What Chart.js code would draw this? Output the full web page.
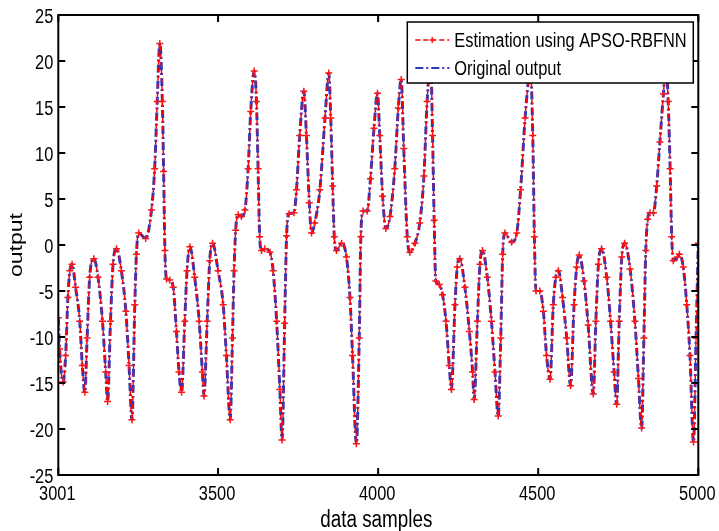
<!DOCTYPE html>
<html>
<head>
<meta charset="utf-8">
<script src="https://cdn.jsdelivr.net/npm/chart.js@4.4.1/dist/chart.umd.min.js"></script>
<style>
html, body { margin: 0; padding: 0; background: #fff; }
</style>
</head>
<body>
<canvas id="outputGraph" width="719" height="531"></canvas>
<script>
// values (sample index / output)
const samples = [
    3001, 3005, 3016, 3024, 3031, 3037, 3044, 3055, 3068, 3076, 3084, 3091, 3099, 3112, 3125, 3139, 3149, 3155, 3164, 3172,
    3183, 3198, 3212, 3222, 3231, 3240, 3245, 3252, 3274, 3292, 3302, 3310, 3318, 3326, 3330, 3334, 3339, 3349, 3360, 3370,
    3378, 3386, 3396, 3403, 3412, 3427, 3441, 3451, 3456, 3466, 3474, 3483, 3500, 3516, 3526, 3538, 3545, 3550, 3555, 3563,
    3573, 3584, 3594, 3602, 3613, 3620, 3625, 3630, 3636, 3646, 3662, 3672, 3683, 3693, 3700, 3708, 3714, 3722, 3737, 3745,
    3755, 3768, 3776, 3785, 3792, 3802, 3818, 3834, 3846, 3852, 3858, 3863, 3870, 3886, 3901, 3912, 3920, 3932, 3941, 3946,
    3953, 3966, 3976, 3987, 3998, 4005, 4014, 4024, 4037, 4052, 4063, 4072, 4080, 4091, 4099, 4115, 4130, 4143, 4153, 4164,
    4170, 4175, 4180, 4191, 4201, 4212, 4222, 4229, 4240, 4247, 4255, 4271, 4285, 4295, 4300, 4310, 4318, 4326, 4341, 4354,
    4365, 4375, 4383, 4389, 4396, 4417, 4433, 4445, 4459, 4469, 4475, 4483, 4488, 4493, 4505, 4516, 4526, 4537, 4547, 4555,
    4563, 4576, 4589, 4601, 4612, 4620, 4628, 4643, 4656, 4672, 4680, 4688, 4698, 4714, 4726, 4737, 4745, 4753, 4761, 4770,
    4787, 4802, 4813, 4823, 4830, 4836, 4842, 4849, 4860, 4870, 4880, 4891, 4899, 4906, 4912, 4917, 4922, 4935, 4941, 4953,
    4964, 4974, 4985, 4993, 5000
];
const originalOutput = [
    -7.9, -11.3, -14.9, -12.0, -5.7, -2.8, -2.1, -4.6, -8.3, -13.1, -16.0, -10.1, -3.5, -1.5, -3.5, -8.3, -13.8, -17.0, -8.3, -2.1,
    -0.4, -2.8, -7.2, -13.1, -19.0, -6.5, -1.0, 1.3, 0.7, 3.8, 8.3, 15.6, 21.9, 15.6, 8.0, -0.6, -3.7, -3.8, -4.6, -9.4,
    -13.8, -16.0, -8.3, -2.8, -0.2, -3.5, -8.3, -13.8, -16.4, -8.3, -1.7, 0.2, -2.8, -6.5, -12.0, -19.0, -10.1, -2.8, 1.6, 3.3,
    3.1, 3.8, 8.3, 14.5, 18.9, 15.6, 8.3, 0.9, -0.6, -0.4, -0.8, -2.8, -8.3, -15.7, -21.2, -8.5, 1.0, 3.4, 3.5, 6.0,
    11.9, 16.7, 11.9, 4.6, 1.3, 2.4, 6.0, 13.8, 18.7, 13.8, 6.4, 0.9, -0.6, 0.2, -1.3, -5.7, -12.0, -21.6, -10.1, 0.9,
    3.7, 3.7, 7.2, 12.7, 16.5, 11.9, 5.3, 1.8, 3.1, 8.3, 14.9, 18.0, 10.5, 0.9, -0.8, 0.2, 2.4, 7.5, 15.6, 19.8,
    11.9, 2.7, -3.9, -4.3, -5.4, -8.3, -13.1, -15.7, -6.5, -2.4, -1.5, -4.6, -9.4, -13.8, -16.8, -8.3, -2.1, -0.6, -3.5, -8.3,
    -13.8, -18.6, -10.1, -1.0, 1.3, 0.3, 1.3, 6.0, 13.8, 17.8, 19.5, 11.9, 0.9, -5.0, -5.0, -7.2, -12.0, -14.6, -6.5, -3.5,
    -2.8, -5.7, -10.1, -15.3, -6.5, -2.4, -1.1, -3.9, -8.7, -16.2, -8.3, -2.1, -0.4, -3.5, -8.3, -13.8, -17.3, -8.3, -1.3, 0.2,
    -2.6, -8.3, -14.5, -19.9, -10.1, -0.6, 2.8, 3.5, 3.5, 6.4, 11.2, 16.4, 19.5, 15.6, 8.3, 0.9, -1.7, -1.3, -1.0, -2.4,
    -6.5, -12.0, -21.4, -10.1, 0.2
];
// the estimate sits on top of the original everywhere in the picture
const estimatedOutput = originalOutput.slice();
const xTickValues = [3001, 3500, 4000, 4500, 5000];
const yTickValues = [-25, -20, -15, -10, -5, 0, 5, 10, 15, 20, 25];

// the figure was squeezed sideways, so text is drawn narrower than it is tall
const fontFamily = "'Liberation Sans', Arial, sans-serif";
const squeeze = 0.84;

function to_points(values) {
    return samples.map((x, i) => ({ x: x, y: values[i] }));
}

function draw_text(ctx, text, x, y, o) {
    ctx.save();
    ctx.translate(x, y);
    if (o.rotate) ctx.rotate(-Math.PI / 2);
    ctx.scale(o.sx || 1, o.sy || 1);
    ctx.font = o.size + 'px ' + fontFamily;
    ctx.fillStyle = '#000';
    ctx.textAlign = o.align || 'left';
    ctx.textBaseline = o.baseline || 'alphabetic';
    ctx.fillText(text, 0, 0);
    ctx.restore();
}

// box round the axes, matlab style inward ticks, tick labels and titles
const frame_plugin = {
    id: 'frame',
    afterDatasetsDraw(chart) {
        const ctx = chart.ctx;
        const a = chart.chartArea;
        const xs = chart.scales.x;
        const ys = chart.scales.y;
        const len = 7;
        ctx.save();
        ctx.strokeStyle = '#000';
        ctx.lineWidth = 2;
        ctx.beginPath();
        xs.ticks.forEach(t => {
            const px = xs.getPixelForValue(t.value);
            ctx.moveTo(px, a.bottom); ctx.lineTo(px, a.bottom - len);
            ctx.moveTo(px, a.top); ctx.lineTo(px, a.top + len);
        });
        ys.ticks.forEach(t => {
            const py = ys.getPixelForValue(t.value);
            ctx.moveTo(a.left, py); ctx.lineTo(a.left + len, py);
            ctx.moveTo(a.right, py); ctx.lineTo(a.right - len, py);
        });
        ctx.stroke();
        ctx.strokeRect(a.left, a.top, a.right - a.left, a.bottom - a.top);
        ctx.restore();

        xs.ticks.forEach(t => {
            draw_text(ctx, String(t.value), xs.getPixelForValue(t.value) - 1, a.bottom + 25,
                { size: 19.5, sx: squeeze, align: 'center' });
        });
        ys.ticks.forEach(t => {
            draw_text(ctx, String(t.value), a.left - 5, ys.getPixelForValue(t.value) + 8,
                { size: 19.5, sx: squeeze, align: 'right' });
        });
        draw_text(ctx, 'data samples', (a.left + a.right) / 2 - 2, 527,
            { size: 23, sx: 0.82, align: 'center' });
        draw_text(ctx, 'output', 17, (a.top + a.bottom) / 2,
            { size: 23, sy: 0.8, rotate: true, align: 'center', baseline: 'middle' });
    }
};

// legend drawn inside the top right corner like the original figure
const legend_box_plugin = {
    id: 'legendBox',
    afterDraw(chart) {
        const ctx = chart.ctx;
        const a = chart.chartArea;
        const w = 286, h = 61;
        const left = a.right - 291;
        const top = a.top + 7;
        ctx.save();
        ctx.fillStyle = '#fff';
        ctx.fillRect(left, top, w, h);
        ctx.strokeStyle = '#000';
        ctx.lineWidth = 1.5;
        ctx.strokeRect(left, top, w, h);
        chart.data.datasets.forEach((ds, i) => {
            const y = top + 18 + i * 28;
            ctx.strokeStyle = ds.borderColor;
            ctx.lineWidth = Math.min(ds.borderWidth, 2);
            ctx.setLineDash(ds.borderDash);
            ctx.beginPath();
            ctx.moveTo(left + 8, y);
            ctx.lineTo(left + 42, y);
            ctx.stroke();
            ctx.setLineDash([]);
            if (ds.pointRadius > 0) {
                const cx = left + 25, r = 3;
                ctx.strokeStyle = ds.pointBorderColor;
                ctx.lineWidth = ds.pointBorderWidth;
                ctx.beginPath();
                ctx.moveTo(cx - r, y); ctx.lineTo(cx + r, y);
                ctx.moveTo(cx, y - r); ctx.lineTo(cx, y + r);
                ctx.stroke();
            }
            draw_text(ctx, ds.label, left + 47, y + 7, { size: 20, sx: 0.82 });
        });
        ctx.restore();
    }
};

new Chart('outputGraph', {
    type: 'line',
    data: {
        datasets: [
            {
                label: 'Estimation using APSO-RBFNN',
                data: to_points(estimatedOutput),
                borderColor: 'rgb(255,0,0)',
                borderWidth: 1.5,
                borderDash: [5, 3],
                pointStyle: 'cross',
                pointRadius: 3.5,
                pointBorderWidth: 1.5,
                pointBorderColor: 'rgb(255,20,20)',
                cubicInterpolationMode: 'monotone'
            },
            {
                label: 'Original output',
                data: to_points(originalOutput),
                borderColor: 'rgb(45,55,190)',
                borderWidth: 3,
                borderDash: [8, 3, 2, 3],
                pointRadius: 0,
                cubicInterpolationMode: 'monotone'
            }
        ]
    },
    options: {
        responsive: false,
        animation: false,
        layout: { padding: { left: 0, right: 20.7, top: 15, bottom: 0 } },
        plugins: { legend: { display: false }, tooltip: { enabled: false } },
        scales: {
            x: {
                type: 'linear',
                min: 3001,
                max: 5000,
                afterBuildTicks: scale => { scale.ticks = xTickValues.map(v => ({ value: v })); },
                afterFit: scale => { scale.height = 56; },
                grid: { display: false },
                border: { display: false },
                ticks: { display: false }
            },
            y: {
                min: -25,
                max: 25,
                afterBuildTicks: scale => { scale.ticks = yTickValues.map(v => ({ value: v })); },
                afterFit: scale => { scale.width = 58.3; },
                grid: { display: false },
                border: { display: false },
                ticks: { display: false }
            }
        }
    },
    plugins: [frame_plugin, legend_box_plugin]
});
</script>
</body>
</html>
